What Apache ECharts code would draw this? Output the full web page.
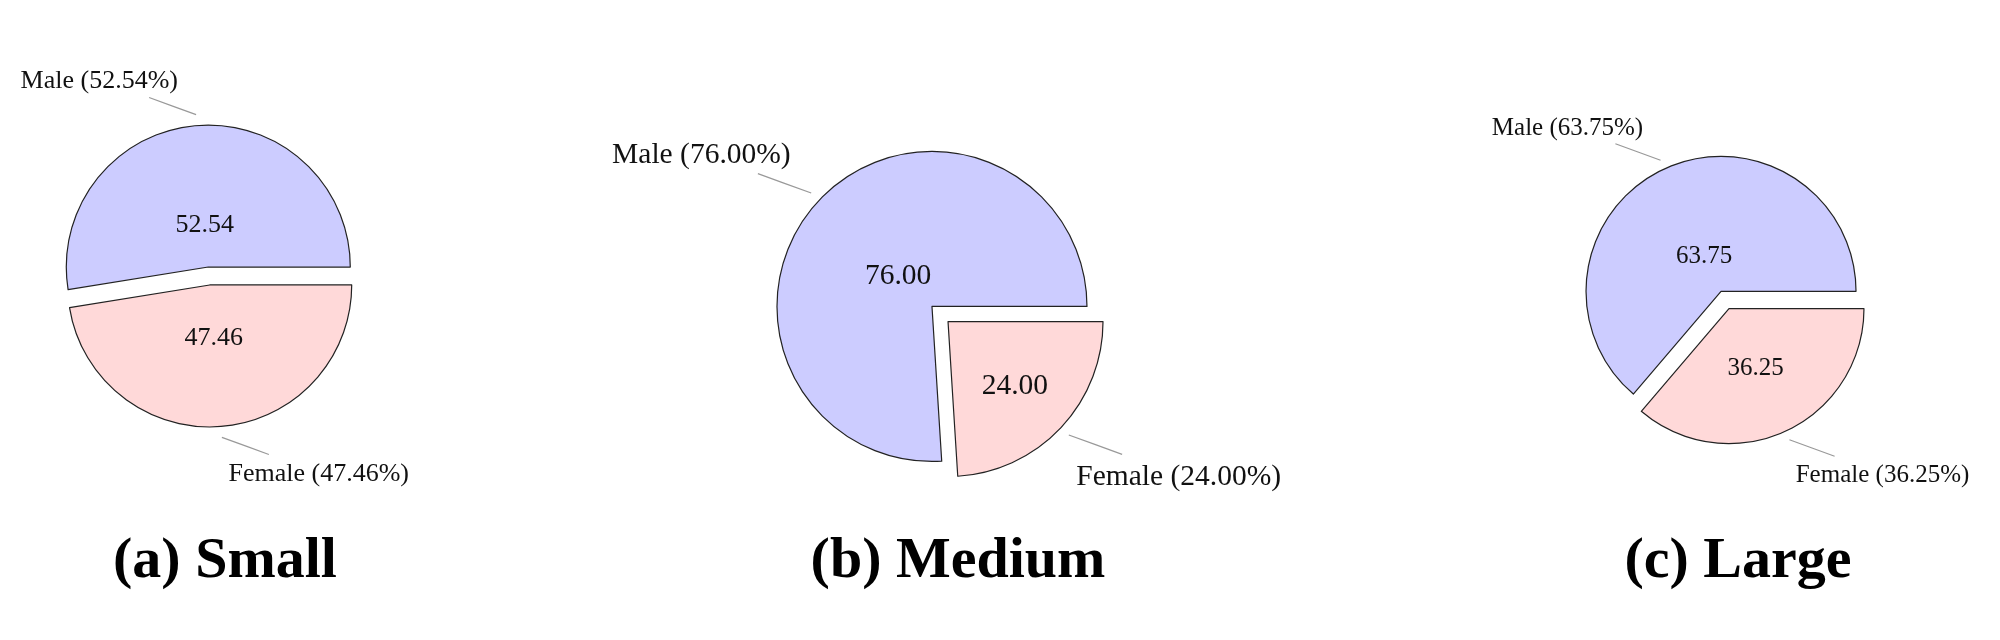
<!DOCTYPE html>
<html>
<head>
<meta charset="utf-8">
<script src="https://cdn.jsdelivr.net/npm/echarts@6/dist/echarts.min.js"></script>
<style>
    html, body { margin: 0; background: #fff; }
    #chart { width: 2000px; height: 640px; }
</style>
</head>
<body>
<div id="chart"></div>
<script>
// data
const groups = ['(a) Small', '(b) Medium', '(c) Large']
const genders = ['Male', 'Female']
const maleShare = [52.54, 76.00, 63.75]
const femaleShare = [47.46, 24.00, 36.25]

// layout of each panel (px)
const panels = [
    { cx: 209, cy: 276, r: 142, off: 9, font: 26, titleX: 220 },
    { cx: 940, cy: 314, r: 155, off: 11, font: 29.5, titleX: 953 },
    { cx: 1725, cy: 300, r: 135, off: 9.5, font: 25, titleX: 1733 }
]
const colors = ['#CCCCFF', '#FFD9D9']
const serif = 'Liberation Serif'
const clear = 'rgba(0,0,0,0)'

const rad = d => d * Math.PI / 180

// mid angle / span of slice i in panel k, counterclockwise from 3 o'clock
function slice(k, i) {
    const vals = [maleShare[k], femaleShare[k]]
    const start = i === 0 ? 0 : vals[0] * 3.6
    const span = vals[i] * 3.6
    return { mid: start + span / 2, span }
}

// exploded centre of slice i
function sliceCenter(k, i) {
    const p = panels[k]
    const a = rad(slice(k, i).mid)
    return [p.cx + p.off * Math.cos(a), p.cy - p.off * Math.sin(a)]
}

function insideLayout(k, i) {
    const p = panels[k]
    return params => {
        if (params.dataIndex !== i) return {}
        const s = slice(k, i)
        // pgf-pie rule: bigger slices get their number closer to the centre
        const f = Math.max(Math.min(-(s.span - 10) * 0.3 / 110, 0), -0.5) + 0.8
        const c = sliceCenter(k, i)
        return {
            x: c[0] + f * p.r * Math.cos(rad(s.mid)),
            y: c[1] - f * p.r * Math.sin(rad(s.mid)) + 2,
            align: 'center',
            verticalAlign: 'middle'
        }
    }
}

function pinLayout(k) {
    const p = panels[k]
    const sc = p.font / 26
    return params => {
        const a = rad(slice(k, params.dataIndex).mid)
        const sx = p.cx + 1.14 * p.r * Math.cos(a)
        const sy = p.cy - 1.14 * p.r * Math.sin(a)
        const phi = rad(Math.sin(a) > 0 ? 160 : 340)
        const ux = Math.cos(phi), uy = -Math.sin(phi)
        const ex = sx + 50 * sc * ux, ey = sy + 50 * sc * uy
        return {
            x: ex + 53 * sc * ux,
            y: ey + 53 * sc * uy + 2,
            align: 'center',
            verticalAlign: 'middle',
            labelLinePoints: [[sx, sy], [(sx + ex) / 2, (sy + ey) / 2], [ex, ey]]
        }
    }
}

const base = {
    type: 'pie',
    startAngle: 0,
    clockwise: false,
    avoidLabelOverlap: false,
    animation: false,
    emphasis: { disabled: true }
}

const series = []
panels.forEach((p, k) => {
    const vals = [maleShare[k], femaleShare[k]]
    // one series per slice, shifted out along its bisector
    genders.forEach((g, i) => {
        series.push({
            ...base,
            center: sliceCenter(k, i),
            radius: p.r,
            data: genders.map((name, j) => ({
                name, value: vals[j],
                itemStyle: j === i
                    ? { color: colors[j], borderColor: '#222', borderWidth: 1.2 }
                    : { color: clear, borderWidth: 0 },
                label: { show: j === i }
            })),
            label: {
                position: 'inside',
                formatter: q => q.value.toFixed(2),
                fontFamily: serif,
                fontSize: p.font,
                color: '#111',
                textBorderWidth: 0
            },
            labelLine: { show: false },
            labelLayout: insideLayout(k, i)
        })
    })
    // pinned name labels
    series.push({
        ...base,
        silent: true,
        center: [p.cx, p.cy],
        radius: p.r,
        data: genders.map((name, j) => ({ name, value: vals[j] })),
        itemStyle: { color: clear, borderWidth: 0 },
        label: {
            position: 'outside',
            formatter: q => q.name + ' (' + q.value.toFixed(2) + '%)',
            fontFamily: serif,
            fontSize: p.font,
            color: '#111',
            textBorderWidth: 0
        },
        labelLine: { show: true, length: 10, length2: 10, smooth: false, lineStyle: { color: '#999', width: 1.2 } },
        labelLayout: pinLayout(k)
    })
})

const myChart = echarts.init(document.getElementById('chart'))
myChart.setOption({
    backgroundColor: '#fff',
    title: groups.map((g, k) => ({
        text: g,
        left: panels[k].titleX,
        top: 528,
        textAlign: 'center',
        textStyle: { fontFamily: serif, fontWeight: 'bold', fontSize: 58, color: '#000' }
    })),
    series
})
</script>
</body>
</html>
